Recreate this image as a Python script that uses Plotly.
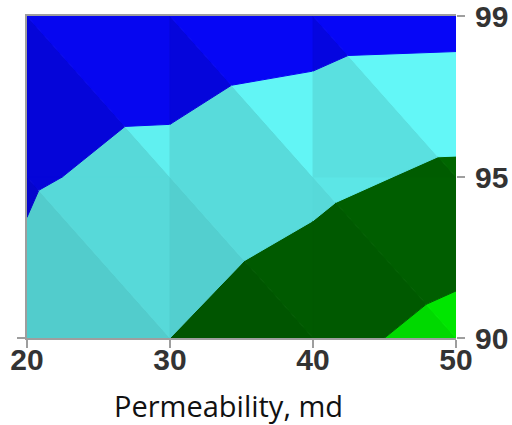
import plotly.graph_objects as go

# ---- data ----
permeability = [20, 30, 40, 50]          # x grid (md)
y_grid = [90, 95, 100]                    # y grid
z_grid = [                                # values at grid vertices (rows = y_grid)
    [2.73, 2.00, 1.33, 0.67],
    [3.09, 2.725, 2.25, 1.80],
    [3.60, 3.566, 3.39, 3.34],
]
contour_levels = [1, 2, 3]
x_tick_vals = [20, 30, 40, 50]
y_tick_vals = [90, 95, 100]
y_tick_text = ["90", "95", "99"]
x_title = "Permeability, md"

# ---- styles ----
band_colors = [(0, 255, 0), (0, 105, 0), (102, 255, 255), (6, 6, 255)]
# per-cell shading factor (row, col) -> (lower-left triangle, upper-right triangle)
shade = [
    [(0.80, 0.85), (0.81, 0.86), (0.85, 0.90)],
    [(0.85, 0.94), (0.86, 0.96), (0.88, 0.97)],
]


def clip(poly, level, keep_above):
    out = []
    n = len(poly)
    for i in range(n):
        P = poly[i]
        Q = poly[(i + 1) % n]
        fp = P[2] - level
        fq = Q[2] - level
        if not keep_above:
            fp, fq = -fp, -fq
        if fp >= 0:
            out.append(P)
        if (fp >= 0) != (fq >= 0):
            t = fp / (fp - fq)
            out.append(tuple(P[k] + t * (Q[k] - P[k]) for k in range(3)))
    return out


bounds = [(None, contour_levels[0])]
for i in range(len(contour_levels) - 1):
    bounds.append((contour_levels[i], contour_levels[i + 1]))
bounds.append((contour_levels[-1], None))

fig = go.Figure()
for r in range(len(y_grid) - 1):
    for c in range(len(permeability) - 1):
        TL = (permeability[c], y_grid[r + 1], z_grid[r + 1][c])
        TR = (permeability[c + 1], y_grid[r + 1], z_grid[r + 1][c + 1])
        BL = (permeability[c], y_grid[r], z_grid[r][c])
        BR = (permeability[c + 1], y_grid[r], z_grid[r][c + 1])
        tris = [([TL, BL, BR], shade[r][c][0]), ([TL, TR, BR], shade[r][c][1])]
        for tri, f in tris:
            for b, (lo, hi) in enumerate(bounds):
                poly = list(tri)
                if lo is not None:
                    poly = clip(poly, lo, True)
                if hi is not None and len(poly) >= 3:
                    poly = clip(poly, hi, False)
                if len(poly) < 3:
                    continue
                col = band_colors[b]
                rgb = "rgb(%d,%d,%d)" % tuple(min(255, round(v * f)) for v in col)
                xs = [p[0] for p in poly] + [poly[0][0]]
                ys = [p[1] for p in poly] + [poly[0][1]]
                fig.add_trace(go.Scatter(
                    x=xs, y=ys, mode="lines", fill="toself", fillcolor=rgb,
                    line=dict(color=rgb, width=1), hoverinfo="skip", showlegend=False,
                ))

axis_gray = "#9e9e9e"
tick_font = dict(family="Liberation Sans, Arial", size=30, color="#333333", weight="bold")

fig.update_layout(
    width=512, height=425,
    margin=dict(l=27, r=56, t=16, b=87, autoexpand=False),
    paper_bgcolor="white", plot_bgcolor="white",
    xaxis=dict(range=[20, 50], tickvals=x_tick_vals, ticks="outside", ticklen=8,
               tickwidth=2, tickcolor=axis_gray, showline=True, linewidth=2,
               linecolor=axis_gray, mirror=True, showgrid=False, zeroline=False,
               tickfont=tick_font, ticklabelstandoff=-14, automargin=False),
    yaxis=dict(range=[90, 100], side="right", tickvals=y_tick_vals, ticktext=y_tick_text,
               ticks="outside", ticklen=8, tickwidth=2, tickcolor=axis_gray,
               showline=False, showgrid=False, zeroline=False, tickfont=tick_font,
               ticklabelstandoff=4, ticklabeloverflow="allow", automargin=False),
    yaxis2=dict(range=[90, 100], overlaying="y", side="left", tickvals=[90],
                ticks="outside", ticklen=8, tickwidth=2, tickcolor=axis_gray,
                showticklabels=False, showline=True, linewidth=2, linecolor=axis_gray,
                showgrid=False, zeroline=False, automargin=False),
    annotations=[dict(text=x_title, xref="paper", yref="paper", x=0.47, y=-0.21,
                      xanchor="center", yanchor="middle", showarrow=False,
                      font=dict(family="Open Sans", size=29, color="#111111"))],
)
# dummy trace to activate left axis line
fig.add_trace(go.Scatter(x=[None], y=[None], yaxis="y2", showlegend=False, hoverinfo="skip"))

fig.write_html("out.html")
